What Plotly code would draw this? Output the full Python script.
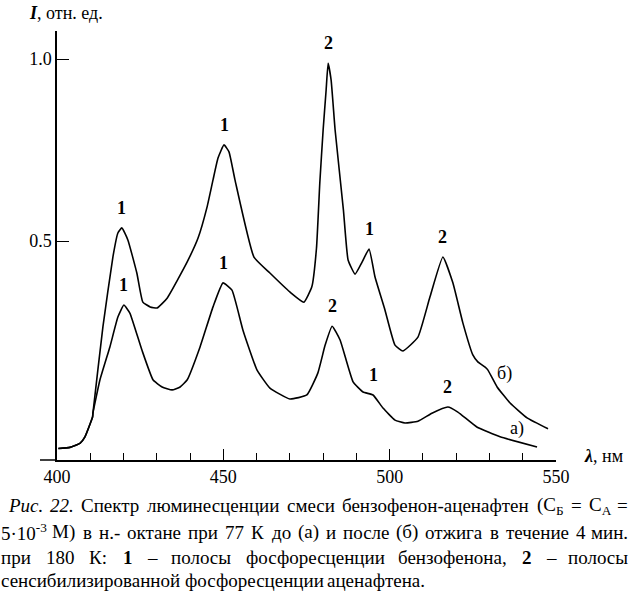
import re
import plotly.graph_objects as go

# ---- data ----
# curve (б) after annealing
wl_b = [400.4, 403.9, 406.9, 408.4, 410.7, 410.8, 413.8, 416.8, 418.3, 419.5, 421.3, 424.0,
        425.8, 428.0, 430.1, 433.1, 439.1, 442.4, 445.1, 446.9, 448.4, 450.2, 451.7, 453.5,
        459.2, 464.0, 470.0, 474.2, 476.6, 478.0, 479.0, 480.0, 480.9, 481.5, 482.4, 483.6,
        486.1, 487.5, 489.6, 491.7, 493.8, 495.6, 498.6, 501.6, 504.0, 508.5, 512.1, 516.0,
        519.0, 522.0, 525.0, 526.5, 528.6, 529.5, 532.3, 536.2, 541.3, 547.6]
I_b = [-0.070, -0.067, -0.056, -0.038, 0.017, 0.027, 0.264, 0.456, 0.522, 0.536, 0.503, 0.412,
       0.332, 0.319, 0.316, 0.343, 0.442, 0.508, 0.593, 0.668, 0.728, 0.764, 0.745, 0.668,
       0.456, 0.412, 0.360, 0.332, 0.374, 0.480, 0.660, 0.805, 0.915, 0.988, 0.942, 0.805,
       0.585, 0.448, 0.409, 0.442, 0.478, 0.401, 0.310, 0.214, 0.198, 0.236, 0.346, 0.456,
       0.385, 0.275, 0.187, 0.168, 0.154, 0.146, 0.099, 0.055, 0.014, -0.016]

# curve (а) before annealing
wl_a = [400.4, 403.9, 406.9, 408.4, 410.7, 410.8, 412.9, 415.9, 418.3, 420.1, 421.9, 425.5,
        428.9, 431.6, 434.6, 437.0, 439.1, 443.0, 446.9, 449.9, 452.6, 455.9, 460.1, 464.0,
        470.0, 475.1, 478.4, 480.6, 482.7, 485.1, 489.0, 492.0, 495.0, 498.0, 501.6, 504.6,
        508.5, 512.7, 517.5, 520.5, 526.2, 533.2, 544.3]
I_a = [-0.070, -0.067, -0.056, -0.038, 0.017, 0.027, 0.118, 0.209, 0.291, 0.324, 0.302, 0.201,
       0.118, 0.099, 0.091, 0.099, 0.118, 0.209, 0.319, 0.385, 0.365, 0.255, 0.146, 0.096,
       0.066, 0.077, 0.137, 0.214, 0.266, 0.228, 0.113, 0.085, 0.077, 0.041, 0.008, 0.000,
       0.005, 0.027, 0.044, 0.030, -0.011, -0.038, -0.066]

# band labels: 1 = benzophenone, 2 = acenaphthene
band_wl = [419.5, 450.2, 481.5, 493.8, 516.0, 420.1, 449.9, 482.7, 495.0, 517.5]
band_I = [0.536, 0.764, 0.988, 0.478, 0.456, 0.324, 0.385, 0.266, 0.077, 0.044]
band_txt = ["1", "1", "2", "1", "2", "1", "1", "2", "1", "2"]

curve_names = ["б)", "а)"]
curve_lab_wl = [534.4, 538.3]
curve_lab_I = [0.137, -0.016]

x_ticks = [400, 450, 500, 550]
y_ticks = [0.5, 1.0]
y_ticktext = ["0.5", "1.0"]

caption_words = [
    ["<i>Рис.</i>", "<i>22.</i>", "Спектр", "люминесценции", "смеси", "бензофенон-аценафтен",
     "(С<sub>Б</sub>", "=", "С<sub>А</sub>", "="],
    ["5·10<sup>-3</sup>", "М)", "в", "н.-", "октане", "при", "77", "К", "до", "(а)", "и", "после",
     "(б)", "отжига", "в", "течение", "4", "мин."],
    ["при", "180", "К:", "<b>1</b>", "–", "полосы", "фосфоресценции", "бензофенона,", "<b>2</b>",
     "–", "полосы"],
    ["сенсибилизированной", "фосфоресценции", "аценафтена."],
]

FONT = "Liberation Serif, Times New Roman, Times, serif"
CAP_SIZE = 19

fig = go.Figure()
for wl, I in ((wl_b, I_b), (wl_a, I_a)):
    fig.add_trace(go.Scatter(x=wl, y=I, mode="lines",
                             line=dict(color="black", width=1.6, shape="spline", smoothing=0.4),
                             showlegend=False, hoverinfo="skip"))

# layout geometry
W, H = 635, 592
L, R, T, B = 57, 79, 31, 132
pw, ph = W - L - R, H - T - B


def px(xp):
    return (xp - L) / pw


def py(yp):
    return (H - B - yp) / ph


# approximate Times-like advance widths (em) used only to justify caption lines
_CW = {'а': .444, 'б': .5, 'в': .472, 'г': .41, 'д': .5, 'е': .444, 'ж': .691, 'з': .395,
       'и': .535, 'й': .535, 'к': .486, 'л': .499, 'м': .633, 'н': .535, 'о': .5, 'п': .535,
       'р': .5, 'с': .444, 'т': .437, 'у': .5, 'ф': .648, 'х': .5, 'ц': .535, 'ч': .503,
       'ш': .77, 'щ': .77, 'ъ': .517, 'ы': .672, 'ь': .456, 'э': .429, 'ю': .747, 'я': .49,
       '.': .25, ',': .25, ':': .278, '-': .333, '–': .5, '(': .333, ')': .333, '=': .564,
       '·': .25, ' ': .25, 'С': .667, 'Б': .556, 'А': .722, 'М': .889, 'К': .722, 'Р': .556}


def word_width(html, size):
    w = 0.0
    scale = 1.0
    for tok in re.split(r'(<[^>]+>)', html):
        if tok.startswith('<'):
            if tok in ('<sub>', '<sup>'):
                scale = 0.7
            elif tok in ('</sub>', '</sup>'):
                scale = 1.0
            continue
        for ch in tok:
            w += _CW.get(ch, 0.5) * scale
    return w * size


ann = []
for x, y, t in zip(band_wl, band_I, band_txt):
    ann.append(dict(x=x, y=y, text="<b>" + t + "</b>", showarrow=False, yshift=20,
                    font=dict(family=FONT, size=18, color="black")))
for x, y, t in zip(curve_lab_wl, curve_lab_I, curve_names):
    ann.append(dict(x=x, y=y, text=t, showarrow=False,
                    font=dict(family=FONT, size=18, color="black")))

ann.append(dict(xref="paper", yref="paper", x=px(27), y=py(13), xanchor="left", yanchor="middle",
                text="<b><i>I</i></b>, отн. ед.", showarrow=False,
                font=dict(family=FONT, size=18, color="black")))
ann.append(dict(xref="paper", yref="paper", x=px(582), y=py(456), xanchor="left", yanchor="middle",
                text="<b><i>λ</i></b>, нм", showarrow=False,
                font=dict(family=FONT, size=18, color="black")))

# caption: lines 1-3 justified between the page edges, last line left aligned
line_y = [506, 532, 557, 580]
line_x0 = [7, 0, 0, 0]
line_x1 = [629, 629, 629, None]
for words, yl, x0, x1 in zip(caption_words, line_y, line_x0, line_x1):
    widths = [word_width(wd, CAP_SIZE) for wd in words]
    if x1 is None:
        gap = 0.25 * CAP_SIZE
    else:
        gap = (x1 - x0 - sum(widths)) / (len(words) - 1)
    pos = x0
    for i, (wd, ww) in enumerate(zip(words, widths)):
        last = (x1 is not None and i == len(words) - 1)
        ann.append(dict(xref="paper", yref="paper", x=px(x1 if last else pos), y=py(yl),
                        xanchor="right" if last else "left", yanchor="middle",
                        text=wd, showarrow=False, borderpad=0,
                        font=dict(family=FONT, size=CAP_SIZE, color="black")))
        pos += ww + gap

fig.update_layout(
    width=W, height=H, margin=dict(l=L, r=R, t=T, b=B),
    paper_bgcolor="white", plot_bgcolor="white",
    annotations=ann,
    shapes=[dict(type="line", xref="paper", yref="paper", x0=px(40), x1=0, y0=0, y1=0,
                 line=dict(color="black", width=1.5))],
    xaxis=dict(range=[400, 550], tickvals=x_ticks, ticks="inside", ticklen=11, tickwidth=1.2,
               tickcolor="black", showline=True, linecolor="black", linewidth=1.5,
               showgrid=False, zeroline=False,
               minor=dict(ticks="inside", ticklen=7, tickwidth=1.2, tickcolor="black",
                          dtick=10, tick0=400, showgrid=False),
               tickfont=dict(family=FONT, size=18, color="black")),
    yaxis=dict(range=[(423 - 460) / 364, (423 - 31) / 364],
               tickvals=y_ticks, ticktext=y_ticktext, ticks="inside", ticklen=12, tickwidth=1.2,
               tickcolor="black", showline=True, linecolor="black", linewidth=1.5,
               showgrid=False, zeroline=False,
               tickfont=dict(family=FONT, size=18, color="black")),
)

fig.write_html("out.html", config={"displayModeBar": False},
               post_script="document.body.style.margin='0';document.body.style.overflow='hidden';")
